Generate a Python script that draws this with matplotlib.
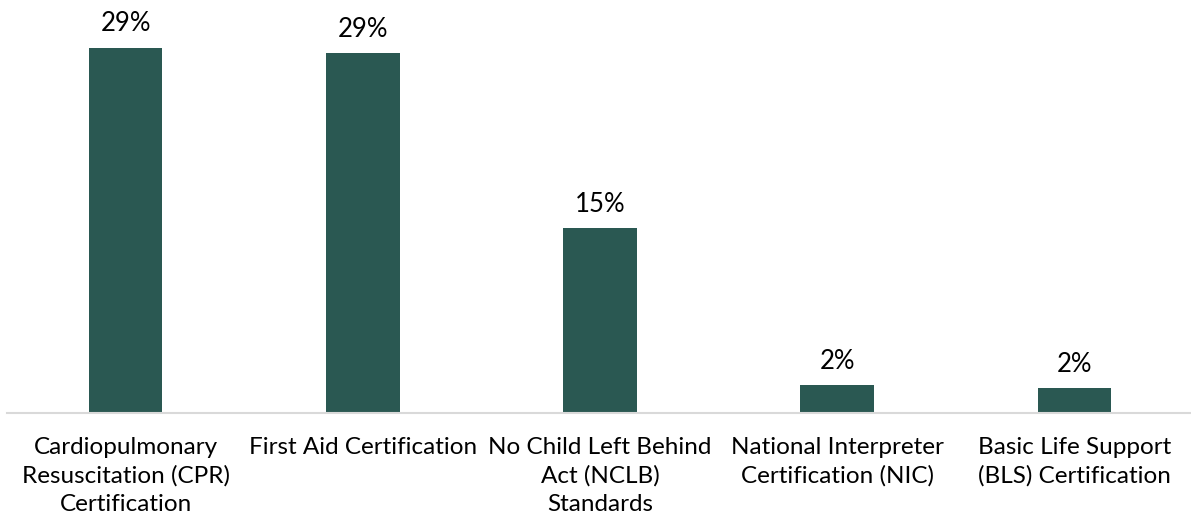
import matplotlib
matplotlib.use("Agg")
import matplotlib.pyplot as plt

categories = [
    "Cardiopulmonary\nResuscitation (CPR)\nCertification",
    "First Aid Certification",
    "No Child Left Behind\nAct (NCLB)\nStandards",
    "National Interpreter\nCertification (NIC)",
    "Basic Life Support\n(BLS) Certification",
]
values = [29.2, 28.75, 14.8, 2.25, 2.0]
labels = ["29%", "29%", "15%", "2%", "2%"]

plt.rcParams["font.family"] = ["Lato", "DejaVu Sans"]

fig = plt.figure(figsize=(11.91, 5.23), dpi=100)
ax = fig.add_axes([7 / 1191, 110 / 523, 1186 / 1191, 413 / 523])

x = range(len(categories))
bars = ax.bar(x, values, width=0.31, color="#2a5852")
for b, lab in zip(bars, labels):
    ax.text(b.get_x() + b.get_width() / 2, b.get_height() + 0.9, lab,
            ha="center", va="bottom", fontsize=18.5, color="black")

ax.set_xlim(-0.5, 4.5)
ax.set_ylim(0, 33)
ax.set_xticks(list(x))
ax.set_xticklabels(categories, fontsize=17.5, linespacing=1.43)
ax.tick_params(axis="x", length=0, pad=17)
ax.set_yticks([])
for s in ["top", "right", "left"]:
    ax.spines[s].set_visible(False)
ax.spines["bottom"].set_color("#d9d9d9")
ax.spines["bottom"].set_linewidth(1.5)

fig.savefig("out.png", dpi=100)
